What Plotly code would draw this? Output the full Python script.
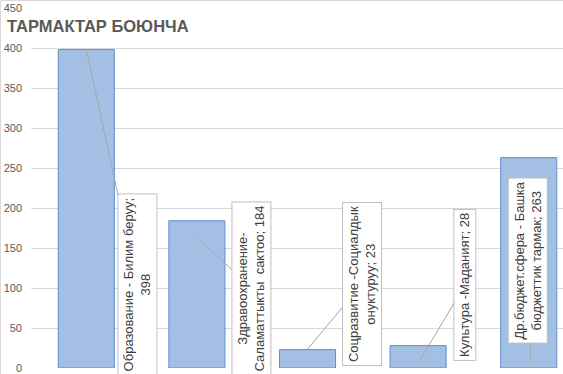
import plotly.graph_objects as go

categories = ["Образование - Билим беруу", "Здравоохранение- Саламаттыкты  сактоо",
              "Соцразвитие -Социалдык онуктуруу", "Культура -Маданият",
              "Др.бюджет.сфера - Башка бюджеттик тармак"]
values = [398, 184, 23, 28, 263]
label_texts = ["Образование - Билим беруу;<br>398",
               "Здравоохранение-<br>Саламаттыкты  сактоо; 184",
               "Соцразвитие -Социалдык<br>онуктуруу; 23",
               "Культура -Маданият; 28",
               "Др.бюджет.сфера - Башка<br>бюджеттик тармак; 263"]
y_ticks = [0, 50, 100, 150, 200, 250, 300, 350, 400, 450]

# callout placement (box centre and leader tip), data coords
box_pos = [(0.462, 105), (1.493, 100), (2.493, 105), (3.425, 104), (3.995, 134.5)]
tip_pos = [(0.0, 398), (1.015, 162), (2.0, 23.5), (3.013, 9), (4.018, 11)]

xs = list(range(len(categories)))

fig = go.Figure()
fig.add_trace(go.Bar(
    x=xs, y=values, width=0.507,
    marker=dict(color="#a3bfe4", line=dict(color="#5b8fd1", width=1)),
    hoverinfo="skip",
))

annotations = []
for txt, (bx, by), (tx, ty) in zip(label_texts, box_pos, tip_pos):
    annotations.append(dict(
        x=tx, y=ty, xref="x", yref="y",
        ax=bx, ay=by, axref="x", ayref="y",
        text=txt, textangle=-90, showarrow=True,
        arrowhead=0, arrowwidth=1, arrowcolor="#a6a6a6", standoff=0,
        bgcolor="white", bordercolor="#bfbfbf", borderwidth=1, borderpad=3,
        font=dict(family="Liberation Sans, Arial, sans-serif", size=13, color="#404040"),
    ))

L, T, B, W, H = 31, 8, 3, 563, 374
pw, ph = W - L, H - T - B
annotations.append(dict(
    x=(5 - L) / pw, y=(H - B - 26) / ph, xref="paper", yref="paper", showarrow=False,
    text="<b>ТАРМАКТАР БОЮНЧА</b>", xanchor="left", yanchor="middle",
    font=dict(family="Liberation Sans, Arial, sans-serif", size=16.5, color="#595959"),
))

fig.update_layout(
    width=W, height=H,
    margin=dict(l=L, r=0, t=T, b=B, pad=0),
    paper_bgcolor="white", plot_bgcolor="white",
    showlegend=False,
    xaxis=dict(range=[-0.5, 4.31], showticklabels=False, showgrid=False,
               zeroline=False, showline=False, ticks=""),
    yaxis=dict(range=[0, 450], tickvals=y_ticks, showgrid=True, gridcolor="#d9d9d9",
               gridwidth=1, zeroline=False, showline=False, ticks="",
               tickfont=dict(family="Liberation Sans, Arial, sans-serif", size=11, color="#595959"),
               ticklabelstandoff=8, ticklabeloverflow="allow"),
    annotations=annotations,
    shapes=[
        dict(type="line", xref="paper", yref="paper",
             x0=(0.5 - L) / pw, x1=(0.5 - L) / pw, y0=-0.1, y1=(H - B - 0.5) / ph,
             line=dict(color="#d9d9d9", width=1)),
        dict(type="line", xref="paper", yref="paper",
             x0=(0.5 - L) / pw, x1=1.1, y0=(H - B - 0.5) / ph, y1=(H - B - 0.5) / ph,
             line=dict(color="#d9d9d9", width=1)),
    ],
)
fig.write_html("out.html", config={"displayModeBar": False},
               post_script="document.body.style.margin='0';document.body.style.overflow='hidden';")
